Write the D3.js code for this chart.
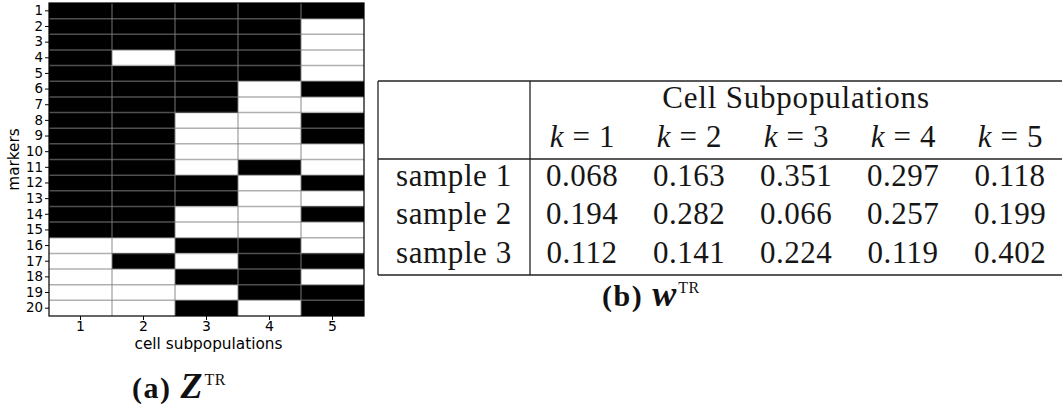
<!DOCTYPE html>
<html>
<head>
<meta charset="utf-8">
<script src="https://cdn.jsdelivr.net/npm/d3@7"></script>
<style>
  body { margin: 0; background: #fff; }
  svg { display: block; }
</style>
</head>
<body>
<svg id="chart" width="1062" height="413"></svg>
<script>
// ---- data ----------------------------------------------------------------
// (a) binary marker / subpopulation matrix, one row per marker
const markers = [1, 2, 3, 4, 5, 6, 7, 8, 9, 10, 11, 12, 13, 14, 15, 16, 17, 18, 19, 20];
const subpops = [1, 2, 3, 4, 5];
const zMatrix = [
  [1, 1, 1, 1, 1],
  [1, 1, 1, 1, 0],
  [1, 1, 1, 1, 0],
  [1, 0, 1, 1, 0],
  [1, 1, 1, 1, 0],
  [1, 1, 1, 0, 1],
  [1, 1, 1, 0, 0],
  [1, 1, 0, 0, 1],
  [1, 1, 0, 0, 1],
  [1, 1, 0, 0, 0],
  [1, 1, 0, 1, 0],
  [1, 1, 1, 0, 1],
  [1, 1, 1, 0, 0],
  [1, 1, 0, 0, 1],
  [1, 1, 0, 0, 0],
  [0, 0, 1, 1, 0],
  [0, 1, 0, 1, 1],
  [0, 0, 1, 1, 0],
  [0, 0, 0, 1, 1],
  [0, 0, 1, 0, 1]
];

// (b) subpopulation weights per sample
const samples = ["sample 1", "sample 2", "sample 3"];
const kValues = [1, 2, 3, 4, 5];
const weights = [
  [0.068, 0.163, 0.351, 0.297, 0.118],
  [0.194, 0.282, 0.066, 0.257, 0.199],
  [0.112, 0.141, 0.224, 0.119, 0.402]
];

// ---- drawing -------------------------------------------------------------
const svg = d3.select("#chart");
const sans = "'DejaVu Sans', sans-serif";
const serif = "'Liberation Serif', 'DejaVu Serif', serif";

// Heatmap panel
const hm = { left: 49, right: 364, top: 3, bottom: 316 };
const x = d3.scaleBand().domain(subpops).range([hm.left, hm.right]);
const y = d3.scaleBand().domain(markers).range([hm.top, hm.bottom]);

const cells = [];
zMatrix.forEach((row, i) => row.forEach((v, j) => cells.push({ m: markers[i], k: subpops[j], v })));

const gHeat = svg.append("g");
gHeat.selectAll("rect.cell")
  .data(cells)
  .join("rect")
  .attr("class", "cell")
  .attr("x", d => x(d.k))
  .attr("y", d => y(d.m))
  .attr("width", x.bandwidth())
  .attr("height", y.bandwidth())
  .attr("fill", d => d.v ? "#000" : "#fff")
  .attr("shape-rendering", "crispEdges");

// translucent grey cell borders (darker over black, lighter over white)
const gridColor = "#808080";
gHeat.selectAll("line.hgrid")
  .data(markers.slice(1))
  .join("line")
  .attr("x1", hm.left).attr("x2", hm.right)
  .attr("y1", d => y(d)).attr("y2", d => y(d))
  .attr("stroke", gridColor).attr("stroke-opacity", 0.62).attr("stroke-width", 1.5);
gHeat.selectAll("line.vgrid")
  .data(subpops.slice(1))
  .join("line")
  .attr("y1", hm.top).attr("y2", hm.bottom)
  .attr("x1", d => x(d)).attr("x2", d => x(d))
  .attr("stroke", gridColor).attr("stroke-opacity", 0.62).attr("stroke-width", 1.5);

// frame
gHeat.append("rect")
  .attr("x", hm.left).attr("y", hm.top)
  .attr("width", hm.right - hm.left).attr("height", hm.bottom - hm.top)
  .attr("fill", "none").attr("stroke", "#000").attr("stroke-width", 1.2);

// axes
const yAxis = svg.append("g")
  .attr("transform", `translate(${hm.left},0)`)
  .call(d3.axisLeft(y).tickSize(4).tickSizeOuter(0).tickPadding(2));
const xAxis = svg.append("g")
  .attr("transform", `translate(0,${hm.bottom})`)
  .call(d3.axisBottom(x).tickSize(4).tickSizeOuter(0).tickPadding(1));
[yAxis, xAxis].forEach(ax => {
  ax.select(".domain").remove();
  ax.selectAll("text").attr("font-family", sans).attr("fill", "#000");
  ax.selectAll("line").attr("stroke", "#000").attr("stroke-width", 1);
});
yAxis.selectAll("text").attr("font-size", 13.4);
xAxis.selectAll("text").attr("font-size", 14);

svg.append("text")
  .attr("transform", `translate(19,${(hm.top + hm.bottom) / 2}) rotate(-90)`)
  .attr("text-anchor", "middle")
  .attr("font-family", sans).attr("font-size", 15.3)
  .text("markers");
svg.append("text")
  .attr("x", (hm.left + hm.right) / 2 + 2).attr("y", 349)
  .attr("text-anchor", "middle")
  .attr("font-family", sans).attr("font-size", 15.3)
  .text("cell subpopulations");

// sub-figure captions: bold tag, bold italic symbol, upright superscript
function caption(xPos, yPos, tag, sym) {
  const t = svg.append("text")
    .attr("x", xPos).attr("y", yPos)
    .attr("font-family", serif).attr("fill", "#111");
  t.append("tspan").attr("font-weight", "bold").attr("font-size", 30)
    .attr("letter-spacing", 1.5).text(tag);
  t.append("tspan").attr("dx", 9).attr("font-weight", "bold").attr("font-style", "italic")
    .attr("font-size", 36).text(sym);
  t.append("tspan").attr("dx", 2).attr("dy", -13).attr("font-size", 16)
    .attr("letter-spacing", 0.5).text("TR");
}
caption(132, 398, "(a)", "Z");

// Table panel
const tb = { left: 378, split: 530, right: 1063, top: 81, mid: 159, bottom: 275 };
const colX = d3.scaleBand().domain(kValues).range([528.5, 1063.5]);
const rowKeys = ["title", "k"].concat(samples);
const rowY = d3.scalePoint().domain(rowKeys).range([108, 263]);
const ink = "#161616";
const gTab = svg.append("g").attr("font-family", serif).attr("fill", ink);

const hLines = [tb.top, tb.mid, tb.bottom];
gTab.selectAll("line.h").data(hLines).join("line")
  .attr("x1", tb.left).attr("x2", tb.right)
  .attr("y1", d => d).attr("y2", d => d)
  .attr("stroke", "#222").attr("stroke-width", 1.3);
gTab.selectAll("line.v").data([tb.left, tb.split, tb.right]).join("line")
  .attr("x1", d => d).attr("x2", d => d)
  .attr("y1", tb.top).attr("y2", tb.bottom)
  .attr("stroke", "#222").attr("stroke-width", 1.3);

gTab.append("text")
  .attr("x", (colX(1) + colX(5) + colX.bandwidth()) / 2)
  .attr("y", rowY("title"))
  .attr("text-anchor", "middle").attr("font-size", 31).attr("letter-spacing", 0.8)
  .text("Cell Subpopulations");

const kText = gTab.selectAll("text.k").data(kValues).join("text")
  .attr("class", "k")
  .attr("x", d => colX(d) + colX.bandwidth() / 2)
  .attr("y", rowY("k"))
  .attr("text-anchor", "middle").attr("font-size", 31);
kText.append("tspan").attr("font-style", "italic").text("k");
kText.append("tspan").attr("dx", 9).text("=");
kText.append("tspan").attr("dx", 9).text(d => d);

gTab.selectAll("text.sample").data(samples).join("text")
  .attr("class", "sample")
  .attr("x", (tb.left + tb.split) / 2)
  .attr("y", d => rowY(d))
  .attr("text-anchor", "middle").attr("font-size", 31).attr("letter-spacing", 0.6)
  .text(d => d);

const wCells = [];
weights.forEach((row, i) => row.forEach((v, j) => wCells.push({ s: samples[i], k: kValues[j], v })));
gTab.selectAll("text.w").data(wCells).join("text")
  .attr("class", "w")
  .attr("x", d => colX(d.k) + colX.bandwidth() / 2)
  .attr("y", d => rowY(d.s))
  .attr("text-anchor", "middle").attr("font-size", 31).attr("letter-spacing", 0.5)
  .text(d => d3.format(".3f")(d.v));

caption(602, 306, "(b)", "w");
</script>
</body>
</html>
